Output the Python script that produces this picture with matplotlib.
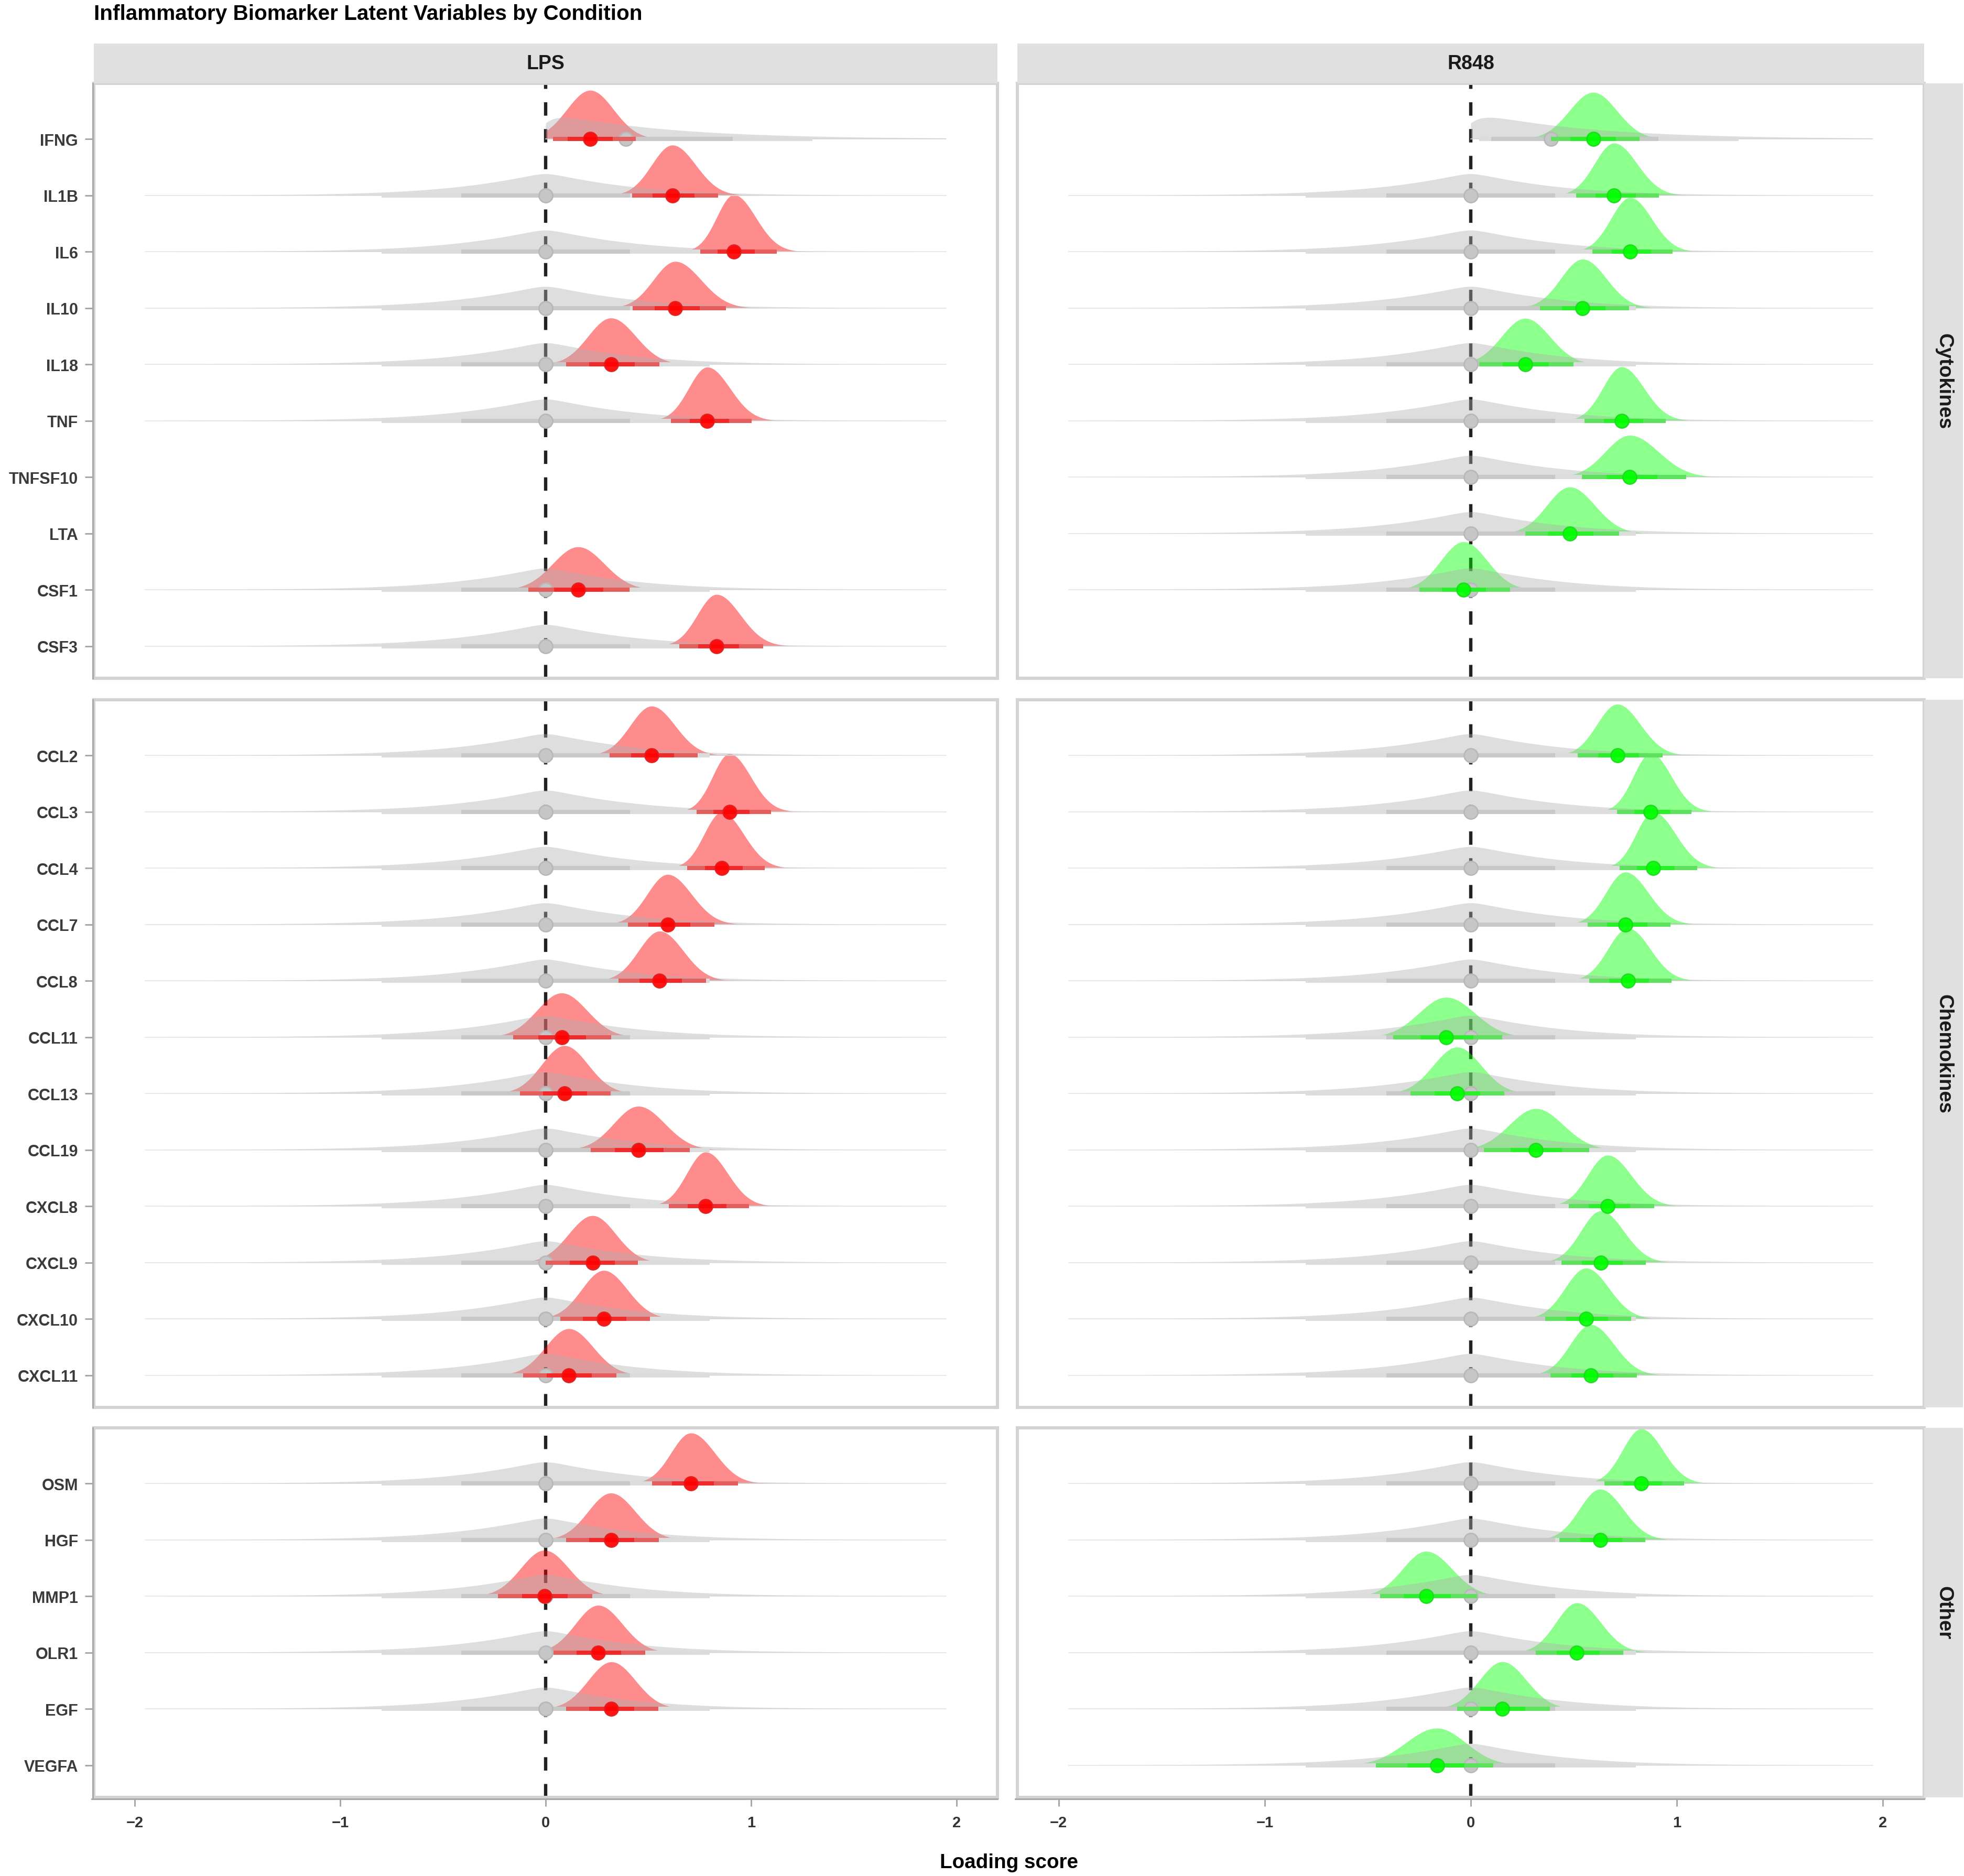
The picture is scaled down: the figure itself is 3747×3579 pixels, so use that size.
import numpy as np
import matplotlib.pyplot as plt
from matplotlib.lines import Line2D

plt.rcParams['font.family'] = ['Liberation Sans', 'DejaVu Sans']

W, H, DPI = 3748, 3580, 200

groups = ['Cytokines', 'Chemokines', 'Other']
group_genes = [
    ['IFNG', 'IL1B', 'IL6', 'IL10', 'IL18', 'TNF', 'TNFSF10', 'LTA', 'CSF1', 'CSF3'],
    ['CCL2', 'CCL3', 'CCL4', 'CCL7', 'CCL8', 'CCL11', 'CCL13', 'CCL19',
     'CXCL8', 'CXCL9', 'CXCL10', 'CXCL11'],
    ['OSM', 'HGF', 'MMP1', 'OLR1', 'EGF', 'VEGFA'],
]
all_genes = [g for grp in group_genes for g in grp]
conditions = ['LPS', 'R848']

# posterior median and 95% interval, in all_genes order (None = not estimated)
lps_median = [0.217, 0.617, 0.916, 0.631, 0.318, 0.787, None, None, 0.158, 0.832,
              0.516, 0.895, 0.857, 0.594, 0.555, 0.078, 0.092, 0.451, 0.779, 0.229, 0.283, 0.113,
              0.707, 0.318, -0.006, 0.256, 0.320, None]
lps_lo95 = [0.037, 0.420, 0.754, 0.424, 0.100, 0.610, None, None, -0.084, 0.650,
            0.312, 0.734, 0.690, 0.400, 0.355, -0.158, -0.125, 0.219, 0.600, 0.000, 0.072, -0.110,
            0.518, 0.100, -0.232, 0.039, 0.100, None]
lps_hi95 = [0.440, 0.840, 1.125, 0.877, 0.555, 1.004, None, None, 0.408, 1.059,
            0.740, 1.098, 1.068, 0.822, 0.780, 0.320, 0.316, 0.703, 0.990, 0.450, 0.508, 0.344,
            0.936, 0.551, 0.227, 0.486, 0.549, None]

r848_median = [0.594, 0.695, 0.773, 0.543, 0.264, 0.732, 0.771, 0.480, -0.035, None,
               0.711, 0.873, 0.885, 0.750, 0.762, -0.119, -0.066, 0.316, 0.664, 0.631, 0.559, 0.582,
               0.827, 0.627, -0.217, 0.515, 0.153, -0.164]
r848_lo95 = [0.390, 0.510, 0.590, 0.336, 0.040, 0.553, 0.540, 0.264, -0.250, None,
             0.518, 0.709, 0.723, 0.566, 0.574, -0.377, -0.293, 0.064, 0.475, 0.441, 0.361, 0.387,
             0.648, 0.431, -0.440, 0.316, -0.065, -0.460]
r848_hi95 = [0.820, 0.914, 0.980, 0.768, 0.498, 0.945, 1.045, 0.719, 0.190, None,
             0.930, 1.070, 1.098, 0.969, 0.975, 0.152, 0.162, 0.576, 0.889, 0.850, 0.777, 0.805,
             1.035, 0.848, 0.030, 0.741, 0.383, 0.110]

# prior summaries (IFNG is sign-constrained, the rest are centred on 0)
prior_median = {'IFNG': 0.39}
prior_lo95 = {'IFNG': 0.04}
prior_hi95 = {'IFNG': 1.30}
prior_lo66 = {'IFNG': 0.10}
prior_hi66 = {'IFNG': 0.91}
prior_default = dict(median=0.0, lo95=-0.80, hi95=0.80, lo66=-0.41, hi66=0.41)
lower_bound = {'IFNG': 0.0}

posterior = {
    'LPS': (lps_median, lps_lo95, lps_hi95),
    'R848': (r848_median, r848_lo95, r848_hi95),
}
fill_col = {'LPS': '#FF0000', 'R848': '#00FF00'}
outer_col = {'LPS': '#E45E5E', 'R848': '#5EE25E'}
inner_col = {'LPS': '#F02A2A', 'R848': '#2AF02A'}
edge_col = {'LPS': '#E41C1C', 'R848': '#1CDC1C'}

DENS_SCALE = 0.24   # rows per unit density
PRIOR_PEAK = 0.38   # rows
Z66 = 0.954 / 1.96

cols_px = [(179, 1903), (1941, 3671)]
rows_px = [(160, 1295), (1336, 2686), (2725, 3430)]


def rect(x0, y0, x1, y1):
    return [x0 / W, 1 - y1 / H, (x1 - x0) / W, (y1 - y0) / H]


fig = plt.figure(figsize=(W / DPI, H / DPI), dpi=DPI)
xs = np.linspace(-1.95, 1.95, 1600)

for r, grp in enumerate(groups):
    genes = group_genes[r]
    n = len(genes)
    for c, cond in enumerate(conditions):
        x0, x1 = cols_px[c]
        y0p, y1p = rows_px[r]
        ax = fig.add_axes(rect(x0, y0p, x1, y1p))
        ax.set_xlim(-2.2, 2.2)
        ax.set_ylim(-0.57, n - 1 + 0.99)
        ax.axvline(0, color='#222222', lw=2.3, dashes=(4, 4), zorder=1)
        med_l, lo_l, hi_l = posterior[cond]

        for i, g in enumerate(genes):
            k = all_genes.index(g)
            med = med_l[k]
            if med is None:
                continue
            yb = n - 1 - i
            lo, hi = lo_l[k], hi_l[k]
            bound = lower_bound.get(g)

            # posterior slab (split normal from the 95% interval)
            sr = (hi - med) / 1.96
            sl = sr if bound is not None else (med - lo) / 1.96
            xp = xs[(xs > med - 6 * sl) & (xs < med + 6 * sr)]
            s = np.where(xp < med, sl, sr)
            dens = np.exp(-0.5 * ((xp - med) / s) ** 2) * 2 / (np.sqrt(2 * np.pi) * (sl + sr))
            if bound is not None:
                keep = xp >= bound
                xp, dens = xp[keep], dens[keep]
                dens = dens / (np.trapezoid(dens, xp))
            ax.fill_between(xp, yb, yb + dens * DENS_SCALE, color=fill_col[cond],
                            alpha=0.45, lw=0, zorder=2)

            # prior slab
            pm = prior_median.get(g, prior_default['median'])
            if bound is not None:
                xq = xs[xs >= bound]
                shape = np.exp(-xq / 0.55) * (1 - 0.45 * np.exp(-xq / 0.06))
            else:
                xq = xs
                shape = np.exp(-np.sqrt(xq ** 2 + 0.05 ** 2) / 0.45 - (xq / 1.4) ** 2)
            shape = shape / shape.max() * PRIOR_PEAK
            ax.fill_between(xq, yb, yb + shape, color='#B0B0B0', alpha=0.41,
                            lw=0.5, edgecolor='none', zorder=3)
            ax.plot([xq[0], xq[-1]], [yb, yb], color='#E6E6E6', lw=0.6, zorder=2.5)

            # prior interval + point
            plo95 = prior_lo95.get(g, prior_default['lo95'])
            phi95 = prior_hi95.get(g, prior_default['hi95'])
            plo66 = prior_lo66.get(g, prior_default['lo66'])
            phi66 = prior_hi66.get(g, prior_default['hi66'])
            ax.plot([plo95, phi95], [yb, yb], color='#DCDCDC', lw=2.9,
                    solid_capstyle='butt', zorder=4)
            ax.plot([plo66, phi66], [yb, yb], color='#C8C8C8', lw=2.9,
                    solid_capstyle='butt', zorder=4.1)
            ax.plot(pm, yb, 'o', ms=9.4, mfc='#C6C6C6', mec='#B8B8B8', mew=1.0, zorder=5)

            # posterior interval + point
            lo66 = med - Z66 * (med - lo) if bound is None else med - Z66 * (hi - med)
            hi66 = med + Z66 * (hi - med)
            ax.plot([lo, hi], [yb, yb], color=outer_col[cond], lw=2.9,
                    solid_capstyle='butt', zorder=6)
            ax.plot([lo66, hi66], [yb, yb], color=inner_col[cond], lw=2.9,
                    solid_capstyle='butt', zorder=6.1)
            ax.plot(med, yb, 'o', ms=9.4, mfc=fill_col[cond], mec=edge_col[cond],
                    mew=1.0, alpha=0.92, zorder=7)

        for sp in ax.spines.values():
            sp.set_color('#D3D3D3')
            sp.set_linewidth(2.2)
            sp.set_zorder(8)

        ax.set_yticks(range(n))
        ax.set_xticks([-2, -1, 0, 1, 2])
        if c == 0:
            ax.set_yticklabels(genes[::-1])
            ax.tick_params(axis='y', length=6.1, width=1.1, color='#A8A8A8', pad=4.7,
                           labelsize=11, labelcolor='#3A3A3A')
            for lab in ax.get_yticklabels():
                lab.set_fontweight('bold')
            fig.add_artist(Line2D([(x0 - 2) / W] * 2, [1 - y1p / H, 1 - y0p / H],
                                  color='#A8A8A8', lw=1.1, zorder=9))
        else:
            ax.tick_params(axis='y', length=0, labelleft=False)
        if r == len(groups) - 1:
            ax.tick_params(axis='x', length=6.1, width=1.1, color='#A8A8A8', pad=6,
                           labelsize=10.5, labelcolor='#333333')
            for lab in ax.get_xticklabels():
                lab.set_fontweight('bold')
            fig.add_artist(Line2D([x0 / W - 0.001, x1 / W], [1 - (y1p + 3) / H] * 2,
                                  color='#A8A8A8', lw=1.1, zorder=9))
        else:
            ax.tick_params(axis='x', length=0, labelbottom=False)

        # top strips
        if r == 0:
            sax = fig.add_axes(rect(x0, 84, x1, 160))
            sax.set_facecolor('#E0E0E0')
            sax.set_xticks([])
            sax.set_yticks([])
            for sp in sax.spines.values():
                sp.set_visible(False)
            sax.text(0.5, 0.5, cond, ha='center', va='center', fontsize=13.5,
                     fontweight='bold', color='#1A1A1A', transform=sax.transAxes)

    # right strips
    sax = fig.add_axes(rect(3671, rows_px[r][0], 3745, rows_px[r][1]))
    sax.set_facecolor('#E0E0E0')
    sax.set_xticks([])
    sax.set_yticks([])
    for sp in sax.spines.values():
        sp.set_visible(False)
    sax.text(0.5, 0.5, grp, ha='center', va='center', rotation=-90, fontsize=13.8,
             fontweight='bold', color='#1A1A1A', transform=sax.transAxes)

fig.text(179 / W, 1 - 38 / H, 'Inflammatory Biomarker Latent Variables by Condition',
         ha='left', va='baseline', fontsize=14.6, fontweight='bold')
fig.text(1925 / W, 1 - 3554 / H, 'Loading score', ha='center', va='center',
         fontsize=13.9, fontweight='bold')

fig.savefig('out.png', dpi=DPI, facecolor='white')
